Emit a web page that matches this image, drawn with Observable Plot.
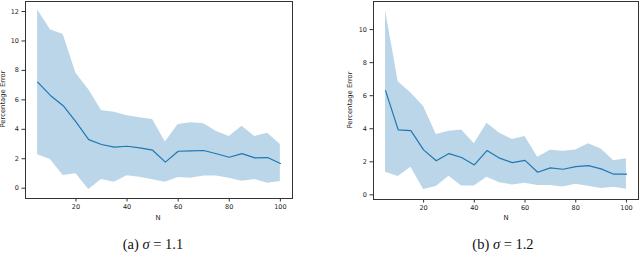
<!DOCTYPE html>
<html>
<head>
<meta charset="utf-8">
<script src="https://cdn.jsdelivr.net/npm/d3@7"></script>
<script src="https://cdn.jsdelivr.net/npm/@observablehq/plot@0.6"></script>
<style>
  html, body { margin: 0; padding: 0; background: #fff; }
  #root { position: relative; width: 640px; height: 271px; overflow: hidden; font-family: "DejaVu Sans", sans-serif; }
  .panel { position: absolute; top: 0; }
  .lab { position: absolute; font-family: "DejaVu Sans", sans-serif; font-size: 6.8px; color: #222; white-space: nowrap; }
  .ylab { transform: translate(-50%, -50%) rotate(-90deg); }
  .xlab { transform: translate(-50%, -50%); }
  .cap { position: absolute; font-family: "Liberation Serif", "DejaVu Serif", serif; font-size: 14.5px; color: #111; white-space: nowrap; transform: translate(-50%, -50%); }
</style>
</head>
<body>
<div id="root"></div>
<script>
const N = [5,10,15,20,25,30,35,40,45,50,55,60,65,70,75,80,85,90,95,100];

const meanA = [7.2,6.3,5.6,4.5,3.3,2.97,2.79,2.85,2.74,2.58,1.77,2.51,2.53,2.56,2.34,2.1,2.35,2.06,2.08,1.68];
const highA = [12.1,10.76,10.44,7.8,6.68,5.28,5.16,4.92,4.78,4.67,3.13,4.33,4.44,4.37,3.85,3.51,4.21,3.51,3.74,2.97];
const lowA  = [2.27,1.95,0.86,0.98,-0.09,0.59,0.41,0.84,0.75,0.57,0.41,0.73,0.68,0.82,0.82,0.68,0.48,0.59,0.34,0.45];

const meanB = [6.31,3.93,3.89,2.72,2.06,2.5,2.26,1.81,2.68,2.22,1.95,2.09,1.37,1.63,1.55,1.71,1.77,1.57,1.25,1.25];
const highB = [11.15,6.85,6.17,5.34,3.65,3.85,3.93,3.09,4.33,3.73,3.35,3.53,2.28,2.7,2.64,2.72,3.09,2.78,2.06,2.18];
const lowB  = [1.37,1.11,1.67,0.32,0.5,1.13,0.54,0.54,1.06,0.74,0.6,0.7,0.56,0.56,0.48,0.64,0.52,0.38,0.46,0.34];

const xTicks = [20,40,60,80,100];
const yTicksA = [0,2,4,6,8,10,12];
const yTicksB = [0,2,4,6,8,10];

const xLabel = "N";
const yLabel = "Percentage Error";
const captions = ["(a) <i>σ</i> = 1.1", "(b) <i>σ</i> = 1.2"];

const blue = "#1f77b4";

function makePanel(mean, low, high, yTicks, cfg) {
  const data = N.map((n, i) => ({n, mean: mean[i], low: low[i], high: high[i]}));
  return Plot.plot({
    width: 320,
    height: 230,
    marginTop: cfg.mt,
    marginLeft: cfg.ml,
    marginRight: cfg.mr,
    marginBottom: cfg.mb,
    style: {fontFamily: "DejaVu Sans, sans-serif", fontSize: "6.5px", color: "#222", background: "transparent", overflow: "visible"},
    x: {domain: [0.25, 104.75]},
    y: {domain: cfg.yd},
    marks: [
      Plot.areaY(data, {x: "n", y1: "low", y2: "high", fill: blue, fillOpacity: 0.3, curve: "linear"}),
      Plot.lineY(data, {x: "n", y: "mean", stroke: blue, strokeWidth: 1.2}),
      Plot.axisX({ticks: xTicks, tickSize: 3.5, tickPadding: 2, label: null, fontSize: 6.5, stroke: "#333"}),
      Plot.axisY({ticks: yTicks, tickSize: 3.5, tickPadding: 3, label: null, fontSize: 6.5, stroke: "#333"}),
      Plot.frame({stroke: "#333", strokeWidth: 1})
    ]
  });
}

const root = document.getElementById("root");

const pA = makePanel(meanA, lowA, highA, yTicksA, {mt: 1, ml: 25, mr: 28, mb: 32, yd: [-0.7, 12.68]});
const dA = document.createElement("div");
dA.className = "panel"; dA.style.left = "0px";
dA.appendChild(pA); root.appendChild(dA);

const pB = makePanel(meanB, lowB, highB, yTicksB, {mt: 1, ml: 53, mr: 2, mb: 31, yd: [-0.28, 11.7]});
const dB = document.createElement("div");
dB.className = "panel"; dB.style.left = "320px";
dB.appendChild(pB); root.appendChild(dB);

function addLabel(text, cls, x, y) {
  const d = document.createElement("div");
  d.className = cls;
  d.innerHTML = text;
  d.style.left = x + "px";
  d.style.top = y + "px";
  root.appendChild(d);
}
addLabel(yLabel, "lab ylab", 3, 99);
addLabel(xLabel, "lab xlab", 158, 218);
addLabel(yLabel, "lab ylab", 350, 100);
addLabel(xLabel, "lab xlab", 506, 218);
addLabel(captions[0], "cap", 153, 244);
addLabel(captions[1], "cap", 503, 244);
</script>
</body>
</html>
